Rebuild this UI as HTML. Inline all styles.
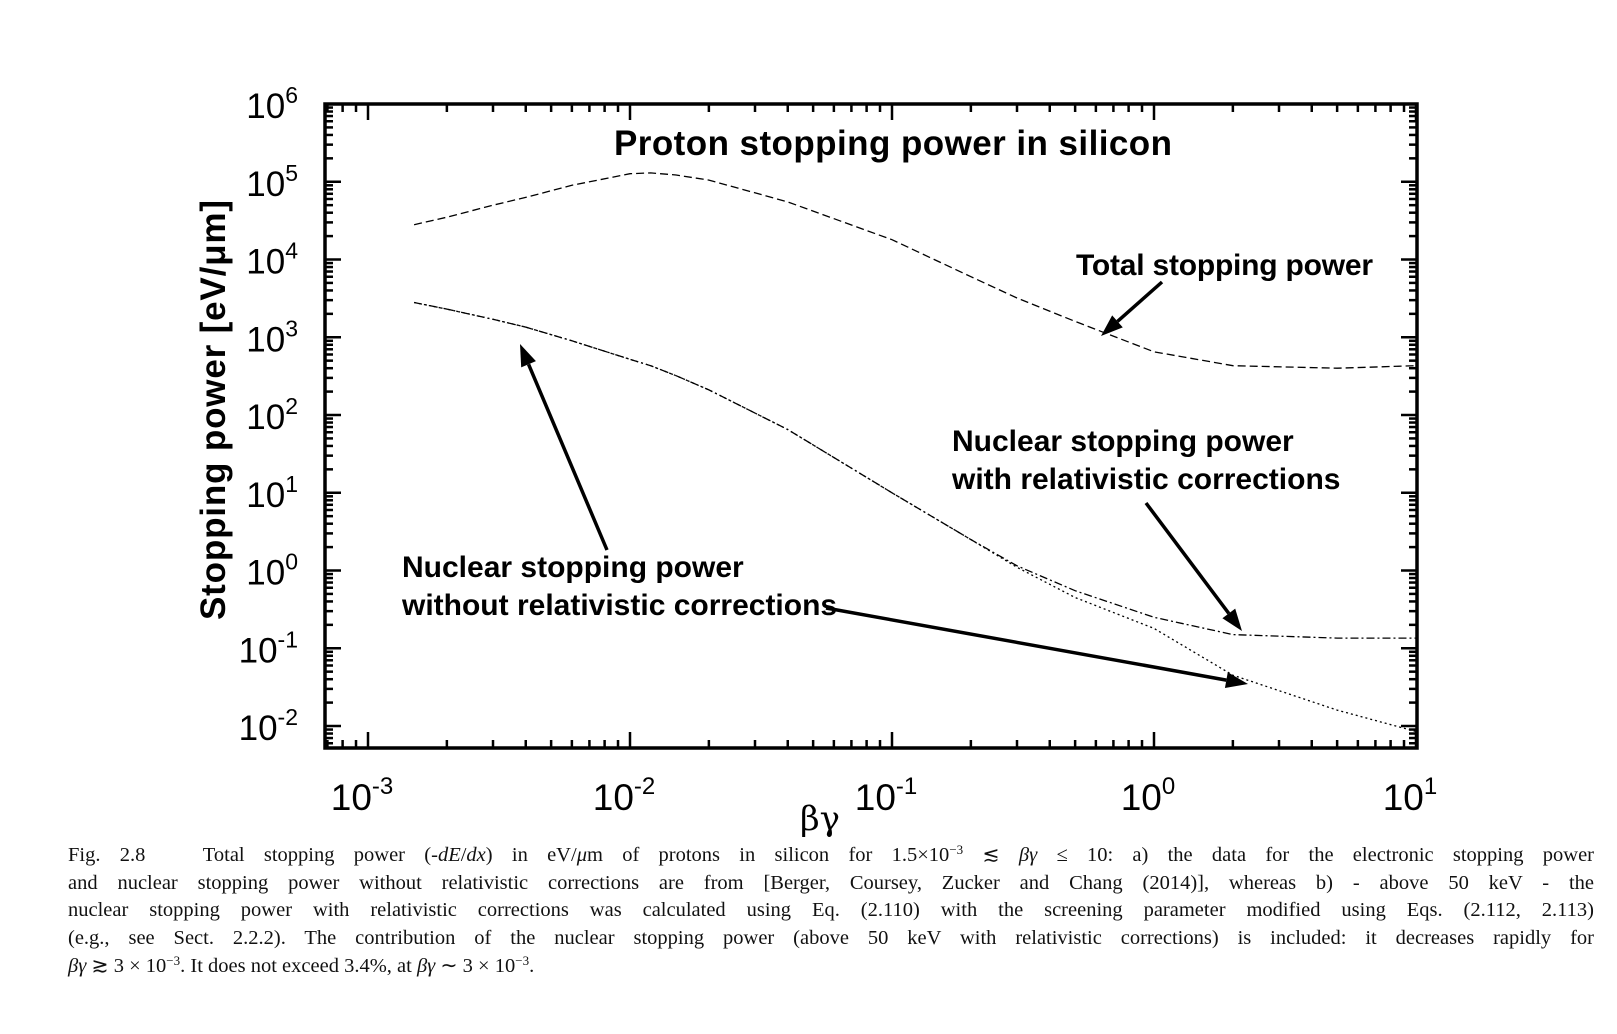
<!DOCTYPE html>
<html><head><meta charset="utf-8"><style>
body{margin:0;background:#fff;width:1617px;height:1034px;overflow:hidden;position:relative}
.cap{position:absolute;left:68px;width:1526px;font-family:"Liberation Serif",serif;font-size:20.5px;color:#111;text-align:justify;text-align-last:justify;white-space:nowrap;line-height:24px;height:24px}
.cap.last{text-align-last:left}
.cap sup{font-size:13px;line-height:0;vertical-align:7px}
</style></head><body>
<svg id="chart" width="1617" height="840" style="position:absolute;left:0;top:0" font-family="Liberation Sans, Arial, sans-serif"></svg>
<div class="cap" style="top:843px">Fig. 2.8&nbsp;&nbsp; Total stopping power (-<i>dE</i>/<i>dx</i>) in eV/<i>μ</i>m of protons in silicon for 1.5×10<sup>−3</sup> ≲ <i>βγ</i> ≤ 10: a) the data for the electronic stopping power</div>
<div class="cap" style="top:871px">and nuclear stopping power without relativistic corrections are from [Berger, Coursey, Zucker and Chang (2014)], whereas b) - above 50 keV - the</div>
<div class="cap" style="top:898px">nuclear stopping power with relativistic corrections was calculated using Eq. (2.110) with the screening parameter modified using Eqs. (2.112, 2.113)</div>
<div class="cap" style="top:926px">(e.g., see Sect. 2.2.2). The contribution of the nuclear stopping power (above 50 keV with relativistic corrections) is included: it decreases rapidly for</div>
<div class="cap last" style="top:954px"><i>βγ</i> ≳ 3 × 10<sup>−3</sup>. It does not exceed 3.4%, at <i>βγ</i> ∼ 3 × 10<sup>−3</sup>.</div>
<script>
const xValues = [1.5e-3, 2e-3, 3e-3, 4e-3, 6e-3, 1e-2, 1.2e-2, 1.5e-2, 2e-2, 4e-2, 0.1, 0.2, 0.3, 0.5, 1, 2, 5, 10];
const totalPower = [2.8e4, 3.5e4, 5e4, 6.3e4, 9e4, 1.27e5, 1.3e5, 1.22e5, 1.05e5, 5.5e4, 1.8e4, 6e3, 3.2e3, 1.6e3, 6.5e2, 4.3e2, 4e2, 4.3e2];
const nuclearNoRel = [2.8e3, 2.3e3, 1.7e3, 1.35e3, 9e2, 5.2e2, 4.3e2, 3.2e2, 2.1e2, 65, 10, 2.5, 1.1, 0.45, 0.18, 0.045, 0.016, 0.0085];
const nuclearRel = [2.8e3, 2.3e3, 1.7e3, 1.35e3, 9e2, 5.2e2, 4.3e2, 3.2e2, 2.1e2, 65, 10, 2.5, 1.15, 0.55, 0.25, 0.15, 0.135, 0.135];
const xTickExps = [-3, -2, -1, 0, 1];
const yTickExps = [-2, -1, 0, 1, 2, 3, 4, 5, 6];

const NS = 'http://www.w3.org/2000/svg';
const svg = document.getElementById('chart');
const L = 325, R = 1417, T = 104, B = 748;
const xDec = 262, x0 = 1154;
const yDec = 77.75, yRef = 726;
const X = v => x0 + Math.log10(v) * xDec;
const Y = v => yRef - (Math.log10(v) + 2) * yDec;
function mk(tag, attrs, parent) { const e = document.createElementNS(NS, tag); for (const k in attrs) e.setAttribute(k, attrs[k]); (parent || svg).appendChild(e); return e; }

const ticks = mk('g', {stroke: '#000', 'stroke-width': 2.5});


for (let e = -4; e <= 1; e++) for (let m = 1; m <= 9; m++) {
  const xv = X(m * Math.pow(10, e)); if (xv < L || xv > R) continue;
  const len = m === 1 ? 16 : 8;
  mk('line', {x1: xv, y1: B, x2: xv, y2: B - len}, ticks);
  mk('line', {x1: xv, y1: T, x2: xv, y2: T + len}, ticks);
}
for (let e = -3; e <= 6; e++) for (let m = 1; m <= 9; m++) {
  const yv = Y(m * Math.pow(10, e)); if (yv < T || yv > B) continue;
  const len = m === 1 ? 16 : 8;
  mk('line', {x1: L, y1: yv, x2: L + len, y2: yv}, ticks);
  mk('line', {x1: R, y1: yv, x2: R - len, y2: yv}, ticks);
}
const frame = mk('rect', {x: L, y: T, width: R - L, height: B - T, fill: 'none', stroke: '#000', 'stroke-width': 3.5});



xTickExps.forEach(e => {
  const t = mk('text', {x: X(Math.pow(10, e)) - 6, y: 810, 'font-size': 37, 'text-anchor': 'middle'});
  
  
  t.textContent = '10';
  const s = mk('tspan', {dy: -16, 'font-size': 24}, t); s.textContent = String(e);
});
yTickExps.forEach(e => {
  const t = mk('text', {x: 298, y: Y(Math.pow(10, e)) + 14, 'font-size': 35, 'text-anchor': 'end'});
  
  
  t.textContent = '10';
  const s = mk('tspan', {dy: -15, 'font-size': 23}, t); s.textContent = String(e);
});

function series(vals, dash, name) {
  const p = mk('path', {d: xValues.map((x, i) => (i ? 'L' : 'M') + X(x).toFixed(1) + ' ' + Y(vals[i]).toFixed(1)).join(' '), fill: 'none', stroke: '#000', 'stroke-width': 1.3, 'stroke-dasharray': dash});
  
  
}
series(totalPower, '8 4', 'total-stopping-power-line');
series(nuclearRel, '8 3 2 3', 'nuclear-with-rel-line');
series(nuclearNoRel, '2 3', 'nuclear-without-rel-line');

function txt(x, y, s, size, name, extra) {
  const t = mk('text', Object.assign({x: x, y: y, 'font-size': size, 'font-weight': 'bold'}, extra || {}));
  
  
  t.textContent = s; return t;
}
txt(614, 155, 'Proton stopping power in silicon', 35, 'chart-title', {textLength: 558});
txt(1076, 275, 'Total stopping power', 30, 'total-label', {textLength: 297});
txt(952, 451, 'Nuclear stopping power', 30, 'nuclear-rel-label-1');
txt(952, 489, 'with relativistic corrections', 30, 'nuclear-rel-label-2');
txt(402, 577, 'Nuclear stopping power', 30, 'nuclear-norel-label-1');
txt(402, 615, 'without relativistic corrections', 30, 'nuclear-norel-label-2');
txt(800, 830, 'βγ', 34, 'x-axis-title', {'font-family': 'DejaVu Serif, serif', 'font-weight': 'normal'});
txt(0, 0, 'Stopping power [eV/μm]', 35, 'y-axis-title', {'text-anchor': 'middle', transform: 'translate(225,410) rotate(-90)', textLength: 420});

function arrow(x1, y1, x2, y2, name) {
  const g = mk('g', {});
  
  
  const a = Math.atan2(y2 - y1, x2 - x1), h = 22, w = 8;
  const bx = x2 - h * Math.cos(a), by = y2 - h * Math.sin(a);
  mk('line', {x1: x1, y1: y1, x2: bx, y2: by, stroke: '#000', 'stroke-width': 3.5}, g);
  mk('polygon', {points: `${x2},${y2} ${bx - w * Math.sin(a)},${by + w * Math.cos(a)} ${bx + w * Math.sin(a)},${by - w * Math.cos(a)}`, fill: '#000'}, g);
}
arrow(1162, 282, 1101, 336, 'total-arrow');
arrow(1146, 503, 1242, 631, 'nuclear-rel-arrow');
arrow(607, 550, 520, 344, 'nuclear-norel-arrow-up');
arrow(826, 608, 1248, 684, 'nuclear-norel-arrow-right');
</script>
</body></html>
